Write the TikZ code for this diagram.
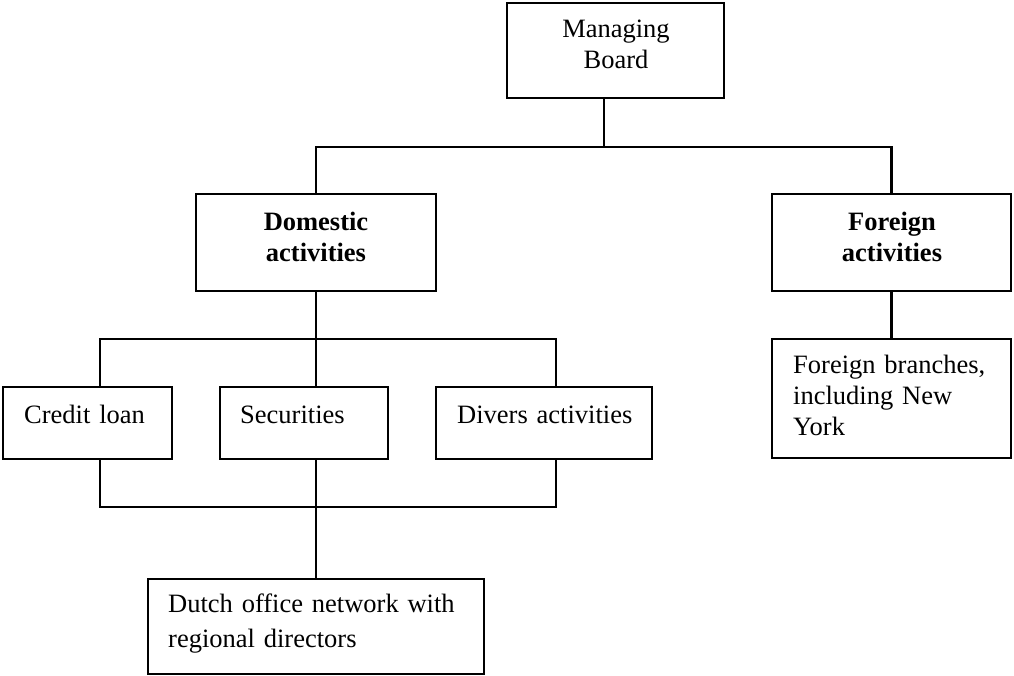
\documentclass[tikz,border=0pt]{standalone}
\usepackage{fontspec}
\setmainfont{Liberation Serif}
\begin{document}
\begin{tikzpicture}[x=1pt,y=-1pt,
  box/.style={draw,line width=2.2pt,rectangle,inner sep=0pt},
  conn/.style={line width=2.2pt},
  txt/.style={inner sep=0pt,font=\fontsize{26.5pt}{31pt}\selectfont},
  ctxt/.style={txt,anchor=base,align=center,text width=230pt},
  ltxt/.style={txt,anchor=base west,align=left,text width=300pt}]
\useasboundingbox[fill=white] (0,0) rectangle (1014,675);
% boxes
\node[box,minimum width=217pt,minimum height=95pt] (mb) at (615.5,50.5) {};
\node[box,minimum width=240pt,minimum height=97pt] (dom) at (316,242.5) {};
\node[box,minimum width=239pt,minimum height=97pt] (for) at (891.5,242.5) {};
\node[box,minimum width=169pt,minimum height=72pt] (cred) at (87.5,423) {};
\node[box,minimum width=168pt,minimum height=72pt] (sec) at (304,423) {};
\node[box,minimum width=216pt,minimum height=72pt] (div) at (544,423) {};
\node[box,minimum width=239pt,minimum height=119pt] (fb) at (891.5,398.5) {};
\node[box,minimum width=336pt,minimum height=95pt] (dutch) at (316,626.5) {};
% texts
\node[ctxt] (mbt) at (616,37) {Managing\\Board};
\node[ctxt,font=\fontsize{26.5pt}{31pt}\selectfont\bfseries] (domt) at (316,230) {Domestic\\activities};
\node[ctxt,font=\fontsize{26.5pt}{31pt}\selectfont\bfseries] (fort) at (892,230) {Foreign\\activities};
\node[ltxt] (credt) at (24,423) {Credit loan};
\node[ltxt] (sect) at (240,423) {Securities};
\node[ltxt] (divt) at (457,423) {Divers activities};
\node[ltxt,text width=215pt] (fbt) at (793,373) {Foreign branches,\\including New\\York};
\node[ltxt,font=\fontsize{26.5pt}{35pt}\selectfont] (dutcht) at (168,612) {Dutch office network with\\regional directors};
% bus coordinates
\coordinate (bus1) at (604,147);
\coordinate (bus2) at (316,339);
\coordinate (b2l) at (100,339);
\coordinate (b2r) at (556,339);
\coordinate (b3l) at (100,507);
\coordinate (b3r) at (556,507);
% connectors
\draw[conn] (mb.south -| bus1) -- (bus1);
\draw[conn] (dom.north) -- (dom.north |- bus1) -- (for.north |- bus1) -- (for.north);
\draw[conn] (dom.south) -- (bus2);
\draw[conn] (cred.north -| b2l) -- (b2l) -- (b2r) -- (div.north -| b2r);
\draw[conn] (bus2) -- (sec.north -| bus2);
\draw[conn] (cred.south -| b3l) -- (b3l) -- (b3r) -- (div.south -| b3r);
\draw[conn] (sec.south -| bus2) -- (dutch.north);
\draw[conn] (for.south) -- (fb.north);
\end{tikzpicture}
\end{document}
